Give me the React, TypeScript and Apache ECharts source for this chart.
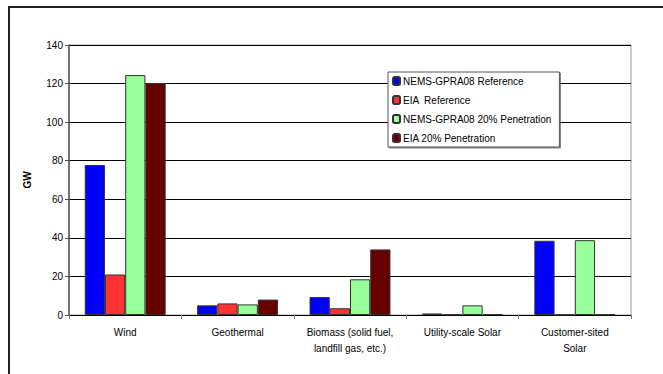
import React, { useEffect, useRef } from "react";
import * as echarts from "echarts";

const categories = [
  "Wind",
  "Geothermal",
  "Biomass (solid fuel,\nlandfill gas, etc.)",
  "Utility-scale Solar",
  "Customer-sited\nSolar",
];
const seriesNames = [
  "NEMS-GPRA08 Reference",
  "EIA  Reference",
  "NEMS-GPRA08 20% Penetration",
  "EIA 20% Penetration",
];
const nemsRef = [77.8, 5, 9.3, 0.8, 38.5];
const eiaRef = [21, 6, 3.5, 0.3, 0.2];
const nems20 = [124.4, 5.5, 18.5, 5, 38.8];
const eia20 = [120.3, 8, 34, 0.4, 0.3];
const yTicks = { min: 0, max: 140, interval: 20 };
const colors = ["#0000FF", "#FF3333", "#99FF99", "#660000"];

export default function App() {
  const ref = useRef<HTMLDivElement>(null);
  useEffect(() => {
    const chart = echarts.init(ref.current!, undefined, { renderer: "svg" });
    const data = [nemsRef, eiaRef, nems20, eia20];
    const font = "Liberation Sans, Arial, sans-serif";
    chart.setOption({
      animation: false,
      textStyle: { fontFamily: font },
      graphic: [
        {
          type: "rect",
          shape: { x: 9, y: 7, width: 700, height: 400 },
          style: { fill: "none", stroke: "#222", lineWidth: 2 },
          silent: true,
          z: -10,
        },
      ],
      grid: {
        left: 69,
        right: 32,
        top: 45,
        bottom: 59,
        show: true,
        borderColor: "#9a9a9a",
        borderWidth: 1,
      },
      legend: {
        orient: "vertical",
        left: 388,
        top: 72,
        padding: [3, 8, 3, 4],
        itemWidth: 7,
        itemHeight: 8,
        itemGap: 7,
        backgroundColor: "#fff",
        borderColor: "#555",
        borderWidth: 1,
        shadowColor: "rgba(0,0,0,0.5)",
        shadowOffsetX: 1,
        shadowOffsetY: 1,
        shadowBlur: 0,
        textStyle: {
          fontSize: 10,
          lineHeight: 12,
          color: "#000",
          fontFamily: font,
          padding: [0, 0, 0, -2],
        },
        data: seriesNames,
      },
      xAxis: {
        type: "category",
        data: categories,
        axisLine: { lineStyle: { color: "#000", width: 1 } },
        axisTick: { show: true, length: 4, lineStyle: { color: "#777" } },
        axisLabel: {
          interval: 0,
          fontSize: 10,
          color: "#000",
          lineHeight: 16,
          margin: 9,
          fontFamily: font,
        },
      },
      yAxis: {
        type: "value",
        min: yTicks.min,
        max: yTicks.max,
        interval: yTicks.interval,
        name: "GW",
        nameLocation: "middle",
        nameRotate: 90,
        nameGap: 37,
        nameTextStyle: {
          fontSize: 10,
          fontWeight: "bold",
          color: "#000",
          fontFamily: font,
        },
        axisLine: { show: true, lineStyle: { color: "#555", width: 1.5 } },
        axisTick: { show: true, length: 4, lineStyle: { color: "#555" } },
        axisLabel: { fontSize: 10, color: "#000", margin: 6, fontFamily: font },
        splitLine: { lineStyle: { color: "#000", width: 1 } },
      },
      series: seriesNames.map((name, i) => ({
        name,
        type: "bar",
        data: data[i],
        barGap: "0%",
        barCategoryGap: "28%",
        itemStyle: { color: colors[i], borderColor: "#333", borderWidth: 1 },
      })),
    });
    return () => chart.dispose();
  }, []);
  return (
    <div
      ref={ref}
      style={{ position: "fixed", left: 0, top: 0, width: 663, height: 374, background: "#fff" }}
    />
  );
}
